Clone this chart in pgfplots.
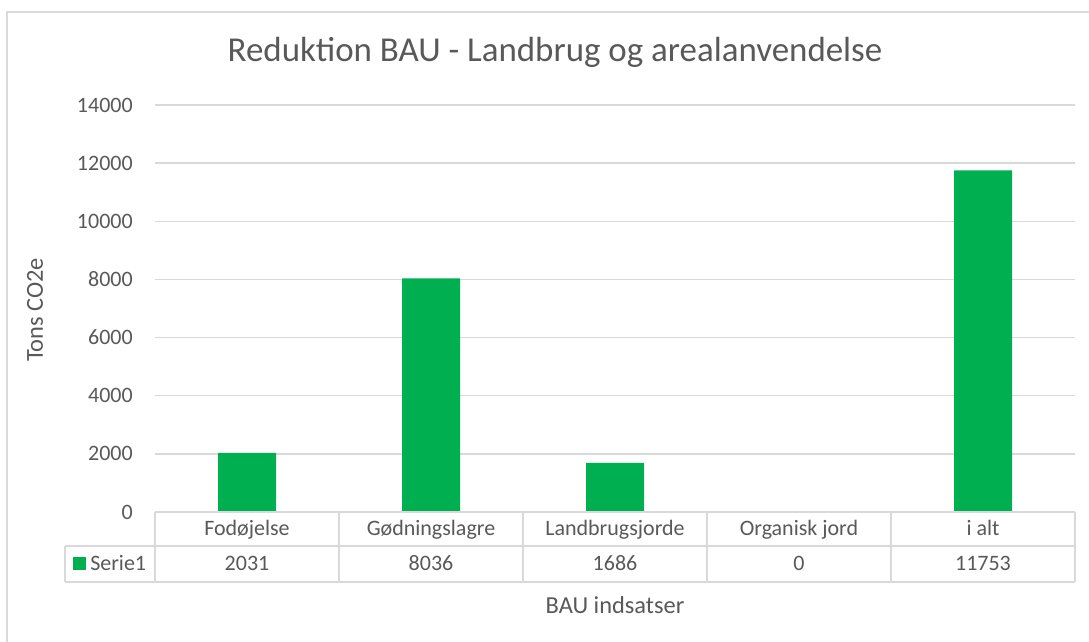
\documentclass[border=0pt]{standalone}
\usepackage{pgfplots}
\pgfplotsset{compat=1.18}
\usepackage{pgfplotstable}
\usepackage{fontspec}
\setmainfont{Carlito}
\definecolor{txt}{HTML}{595959}
\definecolor{grd}{HTML}{D9D9D9}
\definecolor{bargreen}{HTML}{00B050}
\pgfplotstableread{
x cat y
0 Fodøjelse 2031
1 Gødningslagre 8036
2 Landbrugsjorde 1686
3 {Organisk jord} 0
4 {i alt} 11753
}\datatab
\begin{document}
\begin{tikzpicture}[x=0.75pt,y=0.75pt]
\useasboundingbox (0,0) rectangle (1089,642);
\fill[white] (0,0) rectangle (1089,642);
% chart area border
\draw[grd, line width=1.1pt] (7,0) -- (7,630) -- (1089,630);
\begin{axis}[
  at={(116.25pt,97.5pt)}, anchor=south west,
  width=690pt, height=305.25pt, scale only axis,
  xmin=-0.5, xmax=4.5, ymin=0, ymax=14000,
  ytick={0,2000,4000,6000,8000,10000,12000,14000},
  scaled y ticks=false,
  xtick=data,
  xticklabels from table={\datatab}{cat},
  axis line style={draw=none},
  major tick length=0pt,
  ymajorgrids, grid style={grd, line width=1.1pt},
  /pgf/number format/.cd, 1000 sep={}, assume math mode=true, /pgfplots/.cd,
  ticklabel style={font=\fontsize{16.5}{19}\selectfont, text=txt},
  yticklabel style={anchor=east, inner sep=0pt, xshift=-16.5pt},
  xticklabel style={anchor=base, inner sep=0pt, yshift=-17.5pt},
  clip=false,
]
\addplot[ybar, bar width=43.5pt, bar shift=0pt, fill=bargreen, draw=none] table[x=x, y=y] {\datatab};
\addplot[draw=none, mark=none, nodes near coords, point meta=explicit symbolic,
  every node near coord/.append style={anchor=base, inner sep=0pt, yshift=-44.25pt, font=\fontsize{16.5}{19}\selectfont, text=txt}]
  table[x=x, y expr=0, meta=y] {\datatab};
\end{axis}
% data table grid
\begin{scope}[grd, line width=1.1pt]
\draw (155,130) -- (1075,130);
\draw (65,96) -- (1075,96);
\draw (65,60) -- (1075,60);
\foreach \xx in {155,339,523,707,891,1075} \draw (\xx,130) -- (\xx,60);
\draw (65,96) -- (65,60);
\end{scope}
\fill[bargreen] (73,71.5) rectangle (86,84.5);
\node[anchor=base west, inner sep=0pt, text=txt, font=\fontsize{16.5}{19}\selectfont] at (90,71) {Serie1};
% titles
\node[text=txt, font=\fontsize{26.2}{30}\selectfont] at (555,590) {Reduktion BAU - Landbrug og arealanvendelse};
\node[text=txt, font=\fontsize{18.3}{22}\selectfont] at (615,37) {BAU indsatser};
\node[text=txt, font=\fontsize{18.3}{22}\selectfont, rotate=90] at (35,332) {Tons CO2e};
\end{tikzpicture}
\end{document}
